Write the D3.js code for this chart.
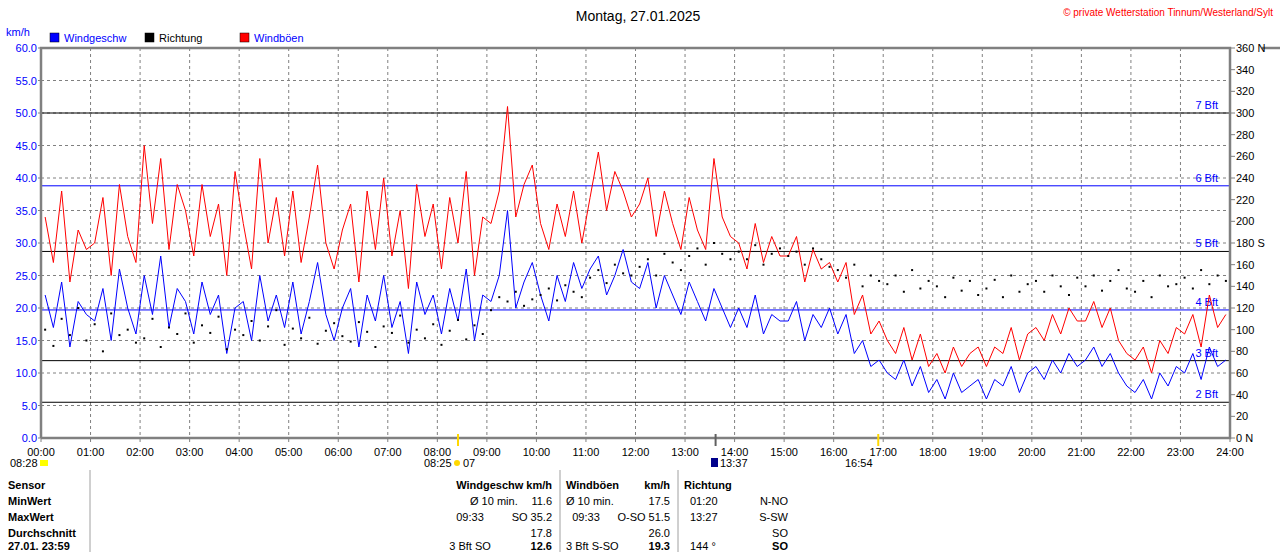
<!DOCTYPE html>
<html><head><meta charset="utf-8">
<script src="https://cdn.jsdelivr.net/npm/d3@7"></script>
<style>body{margin:0;background:#fff}svg{display:block;font-family:"Liberation Sans",Arial,sans-serif}</style>
</head><body><svg id="c" width="1280" height="552"></svg>
<script>
const hours = d3.range(0,25).map(h=>String(h).padStart(2,"0")+":00");
const windTicks = d3.range(0,61,5);
const dirTicks = d3.range(0,361,20);
const bftLevels = [5.5,11.9,19.7,28.7,38.8,50];
const bftLabels = ["2 Bft","3 Bft","4 Bft","5 Bft","6 Bft","7 Bft"];
const bftColors = ["#000","#000","#0000ff","#000","#0000ff","#000"];
const windSpeed = [22,17,24,14,21,19,18,23,15,26,20,16,25,19,28,17,23,21,16,24,19,22,13,20,21,15,25,18,22,17,24,16,21,27,19,15,20,23,14,22,18,25,17,21,13,24,19,22,16,23,18,26,15,22,21,25,35,20,24,27,22,18,25,21,27,23,26,28,22,25,29,24,23,27,20,25,22,19,24,21,18,23,20,17,20,17,22,16,19,18,18,21,15,19,17,20,16,19,13,15,11,12,10,9,12,8,11,7,9,6,10,7,8,9,6,9,8,11,7,10,11,9,12,10,13,11,12,14,11,13,10,8,7,9,6,10,8,11,10,13,9,14,11,12];
const windGust = [34,27,38,24,32,29,30,37,25,39,31,27,45,33,43,29,39,35,28,39,31,36,25,41,33,26,43,30,37,28,38,27,34,42,30,26,32,36,24,38,29,40,28,35,23,39,31,36,26,37,30,41,25,34,33,38,51,34,39,42,33,29,36,31,38,30,37,44,35,41,38,34,36,40,31,38,33,29,37,32,29,43,34,31,30,26,33,27,31,28,28,31,24,29,26,27,24,27,19,22,16,18,15,13,17,12,16,11,13,10,14,11,13,14,11,14,13,17,12,16,17,15,19,16,20,18,18,21,17,20,15,13,12,14,10,15,13,17,16,19,14,22,17,19];
const direction = [100,85,110,95,120,90,105,80,115,95,100,88,92,110,84,102,96,115,88,104,97,112,82,100,95,108,90,103,118,86,101,92,111,87,99,106,94,89,107,98,84,103,97,113,88,100,92,105,86,99,109,91,104,96,118,130,126,135,122,128,132,138,127,141,135,130,148,155,143,160,152,150,158,165,150,170,162,155,168,175,160,180,170,165,172,165,178,160,170,175,168,172,160,175,165,158,155,148,160,140,150,145,142,150,135,155,138,145,140,130,148,136,145,132,138,146,130,150,135,142,145,135,150,140,132,148,140,150,136,145,155,138,135,145,130,150,140,142,148,138,155,142,150,145];
const tableRows = [
 ["Sensor","","","Windgeschw km/h","","Windböen","km/h","Richtung",""],
 ["MinWert","Ø 10 min.","11.6","","","Ø 10 min.","17.5","01:20","N-NO"],
 ["MaxWert","09:33","SO 35.2","","","09:33","O-SO 51.5","13:27","S-SW"],
 ["Durchschnitt","","17.8","","","","26.0","","SO"],
 ["27.01. 23:59","3 Bft SO","12.6","","","3 Bft S-SO","19.3","144 °","SO"]
];

const svg=d3.select("#c");
const L=41,R=1230,T=48,B=438;
const x=d3.scaleLinear().domain([0,24*60]).range([L,R]);
const y=d3.scaleLinear().domain([0,60]).range([B,T]);
const yd=d3.scaleLinear().domain([0,360]).range([B,T]);
const tx=i=>x(i*10+5);

svg.append("g").selectAll("line").data(d3.range(1,24)).join("line")
 .attr("x1",h=>x(h*60)).attr("x2",h=>x(h*60)).attr("y1",T).attr("y2",B)
 .attr("stroke","#808080").attr("stroke-dasharray","3,3");
svg.append("g").selectAll("line").data(windTicks.filter(v=>v>0&&v<60)).join("line")
 .attr("x1",L).attr("x2",R).attr("y1",v=>y(v)).attr("y2",v=>y(v))
 .attr("stroke","#808080").attr("stroke-dasharray","3,3");

svg.append("g").selectAll("line").data(bftLevels).join("line")
 .attr("x1",L).attr("x2",R).attr("y1",v=>y(v)).attr("y2",v=>y(v)).attr("stroke",(v,i)=>bftColors[i]);
svg.append("g").selectAll("text").data(bftLevels).join("text")
 .attr("x",R-12).attr("y",v=>y(v)-4).attr("text-anchor","end").attr("font-size",11).attr("fill","#0000ff")
 .text((v,i)=>bftLabels[i]);
const line=d3.line().x((d,i)=>tx(i)).y(d=>y(d));
svg.append("path").datum(windGust).attr("d",line).attr("fill","none").attr("stroke","#ff0000");
svg.append("path").datum(windSpeed).attr("d",line).attr("fill","none").attr("stroke","#0000ff");
svg.append("g").selectAll("rect").data(direction).join("rect")
 .attr("x",(d,i)=>tx(i)-1).attr("y",d=>yd(d)-1).attr("width",2).attr("height",2).attr("fill","#000");

svg.append("path").attr("d",`M${L},${B}V${T}H${R}V${B}H${L}`).attr("fill","none").attr("stroke","#808080").attr("stroke-width",2.5);
svg.append("line").attr("x1",R+32).attr("x2",1280).attr("y1",T).attr("y2",T).attr("stroke","#808080").attr("stroke-width",2.5);

svg.append("g").selectAll("text").data(windTicks).join("text")
 .attr("x",L-4).attr("y",v=>y(v)+4).attr("text-anchor","end").attr("font-size",11).attr("fill","#0000ff").text(v=>v.toFixed(1));
svg.append("g").selectAll("line").data(windTicks).join("line")
 .attr("x1",L-3).attr("x2",L).attr("y1",v=>y(v)).attr("y2",v=>y(v)).attr("stroke","#808080");
svg.append("text").attr("x",6).attr("y",36).attr("font-size",11).attr("fill","#0000ff").text("km/h");
svg.append("g").selectAll("text").data(dirTicks).join("text")
 .attr("x",R+6).attr("y",v=>yd(v)+4).attr("font-size",11).attr("fill","#000")
 .text(v=>v+(v===360||v===0?" N":v===180?" S":""));
svg.append("g").selectAll("line").data(dirTicks).join("line")
 .attr("x1",R).attr("x2",R+5).attr("y1",v=>yd(v)).attr("y2",v=>yd(v)).attr("stroke","#808080");
svg.append("g").selectAll("text").data(hours).join("text")
 .attr("x",(d,i)=>x(i*60)).attr("y",B+18).attr("text-anchor","middle").attr("font-size",11).text(d=>d);
svg.append("g").selectAll("line").data(hours).join("line")
 .attr("x1",(d,i)=>x(i*60)).attr("x2",(d,i)=>x(i*60)).attr("y1",B).attr("y2",B+4).attr("stroke","#808080");

svg.append("text").attr("x",638).attr("y",21).attr("text-anchor","middle").attr("font-size",14).text("Montag, 27.01.2025");
svg.append("text").attr("x",1273).attr("y",16).attr("text-anchor","end").attr("font-size",10).attr("fill","#ff0000").text("© private Wetterstation Tinnum/Westerland/Sylt");
const leg=[["Windgeschw","#0000ff","#0000ff",50],["Richtung","#000","#000",145],["Windböen","#ff0000","#0000ff",240]];
leg.forEach(l=>{svg.append("rect").attr("x",l[3]).attr("y",33).attr("width",9).attr("height",9).attr("fill",l[1]).attr("stroke","#000").attr("stroke-width",0.5);
 svg.append("text").attr("x",l[3]+14).attr("y",42).attr("font-size",11).attr("fill",l[2]).text(l[0]);});

svg.append("text").attr("x",10).attr("y",467).attr("font-size",11).text("08:28");
svg.append("rect").attr("x",40).attr("y",460).attr("width",8).attr("height",6).attr("fill","#ffff00");
svg.append("text").attr("x",424).attr("y",467).attr("font-size",11).text("08:25");
svg.append("circle").attr("cx",457).attr("cy",463).attr("r",3).attr("fill","#ffd800");
svg.append("text").attr("x",463).attr("y",467).attr("font-size",11).text("07");
svg.append("rect").attr("x",711).attr("y",458).attr("width",7).attr("height",9).attr("fill","#00008b");
svg.append("text").attr("x",720).attr("y",467).attr("font-size",11).text("13:37");
svg.append("text").attr("x",845).attr("y",467).attr("font-size",11).text("16:54");
[[x(8*60+25),"#ffd800"],[x(16*60+54),"#ffd800"],[x(13*60+37),"#606060"]].forEach(m=>
 svg.append("line").attr("x1",m[0]).attr("x2",m[0]).attr("y1",B-4).attr("y2",B+8).attr("stroke",m[1]).attr("stroke-width",2));

[[90],[560],[678]].forEach(v=>svg.append("line").attr("x1",v[0]).attr("x2",v[0]).attr("y1",470).attr("y2",552).attr("stroke","#a0a0a0"));
const rowsY=[489,505,521,537,550];
tableRows.forEach((r,i)=>{
 const yy=rowsY[i];
 const t=(xx,s,anchor,bold)=>svg.append("text").attr("x",xx).attr("y",yy).attr("font-size",11).attr("text-anchor",anchor)
   .attr("font-weight",bold?"bold":"normal").text(s);
 t(8,r[0],"start",true);
 if(i===0){t(552,r[3],"end",true);t(566,r[5],"start",true);t(670,r[6],"end",true);t(684,r[7],"start",true);return;}
 t(470,r[1],i===1?"start":"middle",false);
 t(552,r[2],"end",i===4);
 t(i===1?566:(i===2?586:i===4?566:586),r[5],i===2?"middle":"start",false);
 t(670,r[6],"end",i===4);
 t(690,r[7],"start",false);
 t(788,r[8],"end",i===4);
});
</script></body></html>
